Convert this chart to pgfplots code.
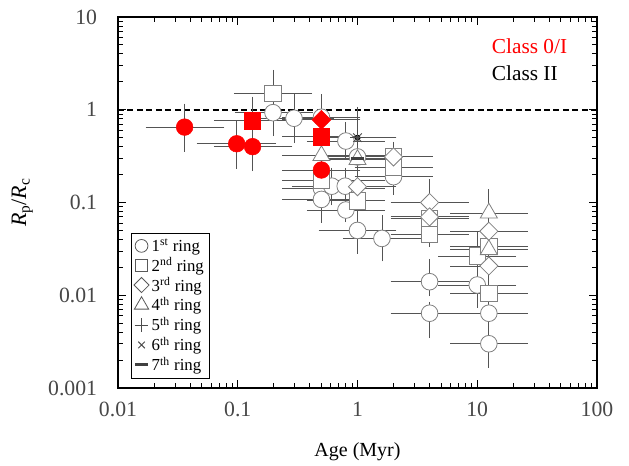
\documentclass[border=0pt]{standalone}
\usepackage{pgfplots}
\pgfplotsset{compat=1.18}
\usepackage{pgfplotstable}
\usepackage{fontspec}
\setmainfont{Liberation Serif}

% columns: age, age low, age high, Rp/Rc, low, high
\pgfplotstableread{
x xlo xhi y ylo yhi
0.197 0.10 0.40 0.93 0.56 1.30
0.295 0.15 0.60 0.81 0.47 1.36
0.50 0.25 1.00 0.83 0.55 1.30
0.80 0.40 1.60 0.46 0.32 0.68
1.00 0.50 2.00 0.31 0.21 0.45
2.00 1.00 4.00 0.19 0.13 0.27
0.50 0.25 1.60 0.142 0.10 0.20
0.61 0.30 1.20 0.15 0.10 0.22
0.79 0.40 1.60 0.15 0.10 0.22
0.50 0.25 0.90 0.108 0.065 0.16
0.80 0.40 1.60 0.083 0.066 0.11
1.00 0.50 2.00 0.050 0.030 0.070
1.60 0.80 3.20 0.041 0.025 0.068
4.00 2.00 8.00 0.014 0.0105 0.023
4.00 2.00 8.00 0.0064 0.0037 0.0079
10.0 5.00 20.0 0.0129 0.0079 0.020
12.5 6.30 25.0 0.0064 0.0045 0.0090
12.5 6.30 25.0 0.0030 0.00177 0.0039
}\circII
\pgfplotstableread{
x xlo xhi y ylo yhi
0.197 0.098 0.396 1.50 0.95 2.50
0.50 0.25 1.60 0.175 0.12 0.25
1.00 0.40 1.60 0.104 0.07 0.15
2.00 1.00 4.00 0.31 0.21 0.42
2.00 1.00 4.00 0.238 0.16 0.34
4.00 2.00 8.00 0.067 0.045 0.10
4.00 2.00 8.00 0.0455 0.036 0.060
10.0 5.00 20.0 0.0265 0.018 0.045
12.5 6.30 25.0 0.0335 0.025 0.045
12.5 6.30 25.0 0.0104 0.0075 0.014
}\sqII
\pgfplotstableread{
x xlo xhi y ylo yhi
1.00 0.50 2.00 0.148 0.11 0.20
2.00 1.00 4.00 0.31 0.22 0.42
4.00 2.00 8.00 0.100 0.07 0.165
4.00 2.00 8.00 0.070 0.05 0.095
12.5 6.30 25.0 0.049 0.038 0.063
12.5 6.30 25.0 0.0207 0.016 0.027
}\diaII
\pgfplotstableread{
x xlo xhi y ylo yhi
0.50 0.25 1.60 0.32 0.22 0.45
1.00 0.50 2.00 0.29 0.20 0.42
12.5 6.30 25.0 0.077 0.05 0.13
12.5 6.30 25.0 0.031 0.022 0.042
}\triII
\pgfplotstableread{
x xlo xhi y ylo yhi
1.00 0.50 2.00 0.50 0.35 0.75
}\plusII
\pgfplotstableread{
x xlo xhi y ylo yhi
1.00 0.50 2.00 0.50 0.30 1.00
}\crossII
\pgfplotstableread{
x xlo xhi y ylo yhi
1.00 0.50 2.00 0.30 0.25 0.36
}\dashII
\pgfplotstableread{
x xlo xhi y ylo yhi
0.036 0.018 0.073 0.65 0.38 1.08
0.098 0.048 0.198 0.43 0.25 0.72
0.133 0.067 0.270 0.40 0.234 0.70
0.50 0.25 1.00 0.224 0.15 0.33
}\circI
\pgfplotstableread{
x xlo xhi y ylo yhi
0.133 0.067 0.27 0.76 0.45 1.29
0.50 0.25 1.00 0.51 0.35 0.75
}\sqI
\pgfplotstableread{
x xlo xhi y ylo yhi
0.50 0.25 1.00 0.78 0.45 1.37
}\diaI

\definecolor{ebar}{gray}{0.33}
\definecolor{mk}{gray}{0.5}

\pgfplotsset{
  ebarstyle/.style={only marks, mark=none, forget plot,
    error bars/.cd, x dir=both, y dir=both, x explicit, y explicit,
    error bar style={ebar, line width=0.65pt},
    error mark options={ebar, mark size=2.2pt, line width=0.65pt}},
}
\newcommand{\ebars}[1]{\addplot[ebarstyle] table[x=x,y=y,
  x error plus expr={\thisrow{xhi}-\thisrow{x}},
  x error minus expr={\thisrow{x}-\thisrow{xlo}},
  y error plus expr={\thisrow{yhi}-\thisrow{y}},
  y error minus expr={\thisrow{y}-\thisrow{ylo}}]{#1};}

\begin{document}
\begin{tikzpicture}
\path[use as bounding box] (-88.5pt,-57.75pt) rectangle (383.25pt,291pt);
\begin{axis}[
  at={(0,0)}, anchor=south west,
  scale only axis, width=359.25pt, height=278.25pt,
  xmode=log, ymode=log,
  xmin=0.01, xmax=100, ymin=0.001, ymax=10,
  xtick={0.01,0.1,1,10,100}, xticklabels={0.01,0.1,1,10,100},
  ytick={0.001,0.01,0.1,1,10}, yticklabels={0.001,0.01,0.1,1,10},
  tick align=inside, major tick length=6pt, minor tick length=3.5pt,
  axis line style={black, line width=1pt},
  tick style={black, line width=0.7pt},
  xticklabel style={font=\fontsize{16.3}{18}\selectfont, text=black!72, anchor=north, inner sep=0pt, yshift=-10.5pt},
  yticklabel style={font=\fontsize{16.3}{18}\selectfont, text=black!72, anchor=east, inner sep=0pt, xshift=-15.5pt},
  xlabel={Age (Myr)},
  xlabel style={font=\fontsize{15}{17}\selectfont, at={(axis description cs:0.5,-0.1725)}, anchor=center},
  ylabel={\textit{R}\textsubscript{p}/\textit{R}\textsubscript{c}},
  ylabel style={font=\fontsize{16.5}{18}\selectfont, at={(axis description cs:-0.2,0.5)}, anchor=center},
  legend style={at={(rel axis cs:0.027,0.418)}, anchor=north west, draw=black, line width=0.6pt,
    font=\fontsize{12.6}{13}\selectfont, inner sep=2pt, row sep=-1pt, cells={anchor=west}},
  legend cell align=left,
]
\addplot[black, line width=1.2pt, dash pattern=on 4.5pt off 2.6pt, forget plot] coordinates {(0.01,1) (100,1)};

\ebars{\circII}
\ebars{\sqII}
\ebars{\diaII}
\ebars{\triII}
\ebars{\plusII}
\ebars{\crossII}
\ebars{\dashII}
\ebars{\circI}
\ebars{\sqI}
\ebars{\diaI}

\addplot[only marks, forget plot, mark=*, mark size=6.25pt, mark options={draw=mk, fill=white, line width=0.6pt}] table[x=x,y=y]{\circII};
\addplot[only marks, forget plot, mark=square*, mark size=6.1pt, mark options={draw=mk, fill=white, line width=0.6pt}] table[x=x,y=y]{\sqII};
\addplot[only marks, forget plot, mark=square*, mark size=4.8pt, mark options={rotate=45, draw=mk, fill=white, line width=0.6pt}] table[x=x,y=y]{\diaII};
\addplot[only marks, forget plot, mark=triangle*, mark size=7.4pt, mark options={draw=mk, fill=white, line width=0.6pt}] table[x=x,y=y]{\triII};
\addplot[only marks, forget plot, mark=+, mark size=5.5pt, mark options={draw=black!70, line width=0.7pt}] table[x=x,y=y]{\plusII};
\addplot[only marks, forget plot, mark=x, mark size=4.5pt, mark options={draw=black!70, line width=0.7pt}] table[x=x,y=y]{\crossII};
\addplot[only marks, forget plot, mark=-, mark size=5pt, mark options={draw=black!75, line width=2.2pt}] table[x=x,y=y]{\dashII};

\addplot[only marks, forget plot, mark=*, mark size=6.25pt, mark options={draw=red, fill=red}] table[x=x,y=y]{\circI};
\addplot[only marks, forget plot, mark=square*, mark size=6.1pt, mark options={draw=red, fill=red}] table[x=x,y=y]{\sqI};
\addplot[only marks, forget plot, mark=square*, mark size=5pt, mark options={rotate=45, draw=red, fill=red}] table[x=x,y=y]{\diaI};

\addlegendimage{only marks, mark=o, mark size=4.8pt, mark options={draw=black!65, line width=0.6pt}}
\addlegendentry{1\textsuperscript{st} ring}
\addlegendimage{only marks, mark=square, mark size=4.6pt, mark options={draw=black!65, line width=0.6pt}}
\addlegendentry{2\textsuperscript{nd} ring}
\addlegendimage{only marks, mark=square, mark size=4pt, mark options={rotate=45, draw=black!65, line width=0.6pt}}
\addlegendentry{3\textsuperscript{rd} ring}
\addlegendimage{only marks, mark=triangle, mark size=6.2pt, mark options={draw=black!65, line width=0.6pt}}
\addlegendentry{4\textsuperscript{th} ring}
\addlegendimage{only marks, mark=+, mark size=5.2pt, mark options={draw=black!70, line width=0.7pt}}
\addlegendentry{5\textsuperscript{th} ring}
\addlegendimage{only marks, mark=x, mark size=3.5pt, mark options={draw=black!70, line width=0.7pt}}
\addlegendentry{6\textsuperscript{th} ring}
\addlegendimage{only marks, mark=-, mark size=5pt, mark options={draw=black!75, line width=2.2pt}}
\addlegendentry{7\textsuperscript{th} ring}

\node[anchor=west, inner sep=0pt, text=red, font=\fontsize{16}{18}\selectfont] at (rel axis cs:0.78,0.922) {Class 0/I};
\node[anchor=west, inner sep=0pt, text=black, font=\fontsize{16}{18}\selectfont] at (rel axis cs:0.78,0.849) {Class II};
\end{axis}
\end{tikzpicture}
\end{document}
